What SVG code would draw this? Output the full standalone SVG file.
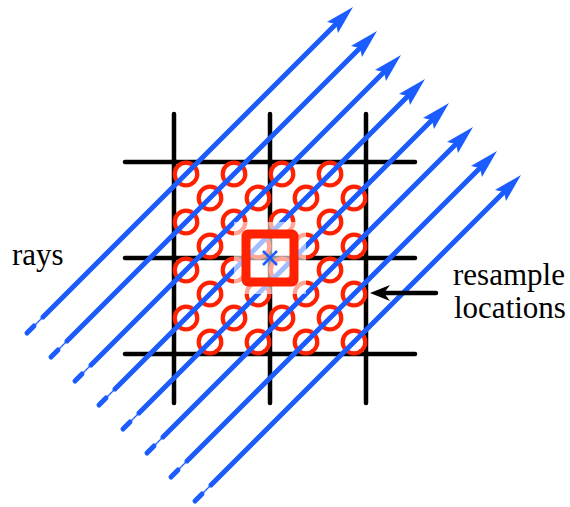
<svg xmlns="http://www.w3.org/2000/svg" xmlns:xlink="http://www.w3.org/1999/xlink" width="570" height="507" viewBox="0 0 570 507">
<style>
.grid{stroke:#000;stroke-width:4.5;stroke-linecap:round;fill:none}
.smp{stroke:#ff2200;stroke-width:4.2;fill:none}
.ray{stroke:#1a5cff;stroke-width:5;stroke-linecap:round;fill:none}
.thin{stroke:#1a5cff;stroke-width:1.2;fill:none}
.head{fill:#1a5cff;stroke:none}
</style>
<defs>
<g id="raybase">
<line class="ray" x1="27" y1="333" x2="34" y2="326"/>
<line class="thin" x1="34" y1="326" x2="43" y2="317"/>
<line class="ray" x1="43" y1="317" x2="336" y2="24"/>
<polygon class="head" points="353,7 327,22 336,24 338,33"/>
</g>
<marker id="blk" markerUnits="userSpaceOnUse" markerWidth="30" markerHeight="30" refX="0" refY="0" viewBox="-10 -10 30 30" orient="auto" overflow="visible">
<polygon points="14,0 -6,-8 0,0 -6,8" fill="#000"/>
</marker>
</defs>
<g id="grid">
<line class="grid" x1="174" y1="114" x2="174" y2="403"/>
<line class="grid" x1="270" y1="114" x2="270" y2="403"/>
<line class="grid" x1="366" y1="114" x2="366" y2="403"/>
<line class="grid" x1="125" y1="162" x2="415" y2="162"/>
<line class="grid" x1="125" y1="258" x2="415" y2="258"/>
<line class="grid" x1="125" y1="354" x2="415" y2="354"/>
</g>
<g id="samples">
<circle class="smp" cx="186" cy="174" r="11.3"/><circle class="smp" cx="234" cy="174" r="11.3"/><circle class="smp" cx="282" cy="174" r="11.3"/><circle class="smp" cx="330" cy="174" r="11.3"/>
<circle class="smp" cx="210" cy="198" r="11.3"/><circle class="smp" cx="258" cy="198" r="11.3"/><circle class="smp" cx="306" cy="198" r="11.3"/><circle class="smp" cx="354" cy="198" r="11.3"/>
<circle class="smp" cx="186" cy="222" r="11.3"/><circle class="smp" cx="234" cy="222" r="11.3"/><circle class="smp" cx="282" cy="222" r="11.3"/><circle class="smp" cx="330" cy="222" r="11.3"/>
<circle class="smp" cx="210" cy="246" r="11.3"/><circle class="smp" cx="258" cy="246" r="11.3"/><circle class="smp" cx="306" cy="246" r="11.3"/><circle class="smp" cx="354" cy="246" r="11.3"/>
<circle class="smp" cx="186" cy="270" r="11.3"/><circle class="smp" cx="234" cy="270" r="11.3"/><circle class="smp" cx="282" cy="270" r="11.3"/><circle class="smp" cx="330" cy="270" r="11.3"/>
<circle class="smp" cx="210" cy="294" r="11.3"/><circle class="smp" cx="258" cy="294" r="11.3"/><circle class="smp" cx="306" cy="294" r="11.3"/><circle class="smp" cx="354" cy="294" r="11.3"/>
<circle class="smp" cx="186" cy="318" r="11.3"/><circle class="smp" cx="234" cy="318" r="11.3"/><circle class="smp" cx="282" cy="318" r="11.3"/><circle class="smp" cx="330" cy="318" r="11.3"/>
<circle class="smp" cx="210" cy="342" r="11.3"/><circle class="smp" cx="258" cy="342" r="11.3"/><circle class="smp" cx="306" cy="342" r="11.3"/><circle class="smp" cx="354" cy="342" r="11.3"/>
</g>
<g id="rays">
<use xlink:href="#raybase"/>
<use xlink:href="#raybase" transform="translate(24,24)"/>
<use xlink:href="#raybase" transform="translate(48,48)"/>
<use xlink:href="#raybase" transform="translate(72,72)"/>
<use xlink:href="#raybase" transform="translate(96,96)"/>
<use xlink:href="#raybase" transform="translate(120,120)"/>
<use xlink:href="#raybase" transform="translate(144,144)"/>
<use xlink:href="#raybase" transform="translate(168,168)"/>
</g>
<g id="pixel">
<rect x="234" y="222" width="72" height="72" fill="#fff" fill-opacity="0.6"/>
<rect x="246" y="234" width="48" height="48" rx="2" fill="none" stroke="#ff2200" stroke-width="9"/>
<line x1="263" y1="251" x2="277" y2="265" stroke="#1a5cff" stroke-width="2.5"/>
<line x1="263" y1="265" x2="277" y2="251" stroke="#1a5cff" stroke-width="2.5"/>
</g>
<g id="connectors">
<line x1="436" y1="293" x2="384" y2="293" stroke="#000" stroke-width="4.5" stroke-linecap="round" marker-end="url(#blk)"/>
</g>
<g id="labels" font-family="Liberation Serif, Times New Roman, serif" font-size="31" fill="#000">
<text x="12" y="265">rays</text>
<text x="453" y="285">resample</text>
<text x="454" y="318">locations</text>
</g>
</svg>
